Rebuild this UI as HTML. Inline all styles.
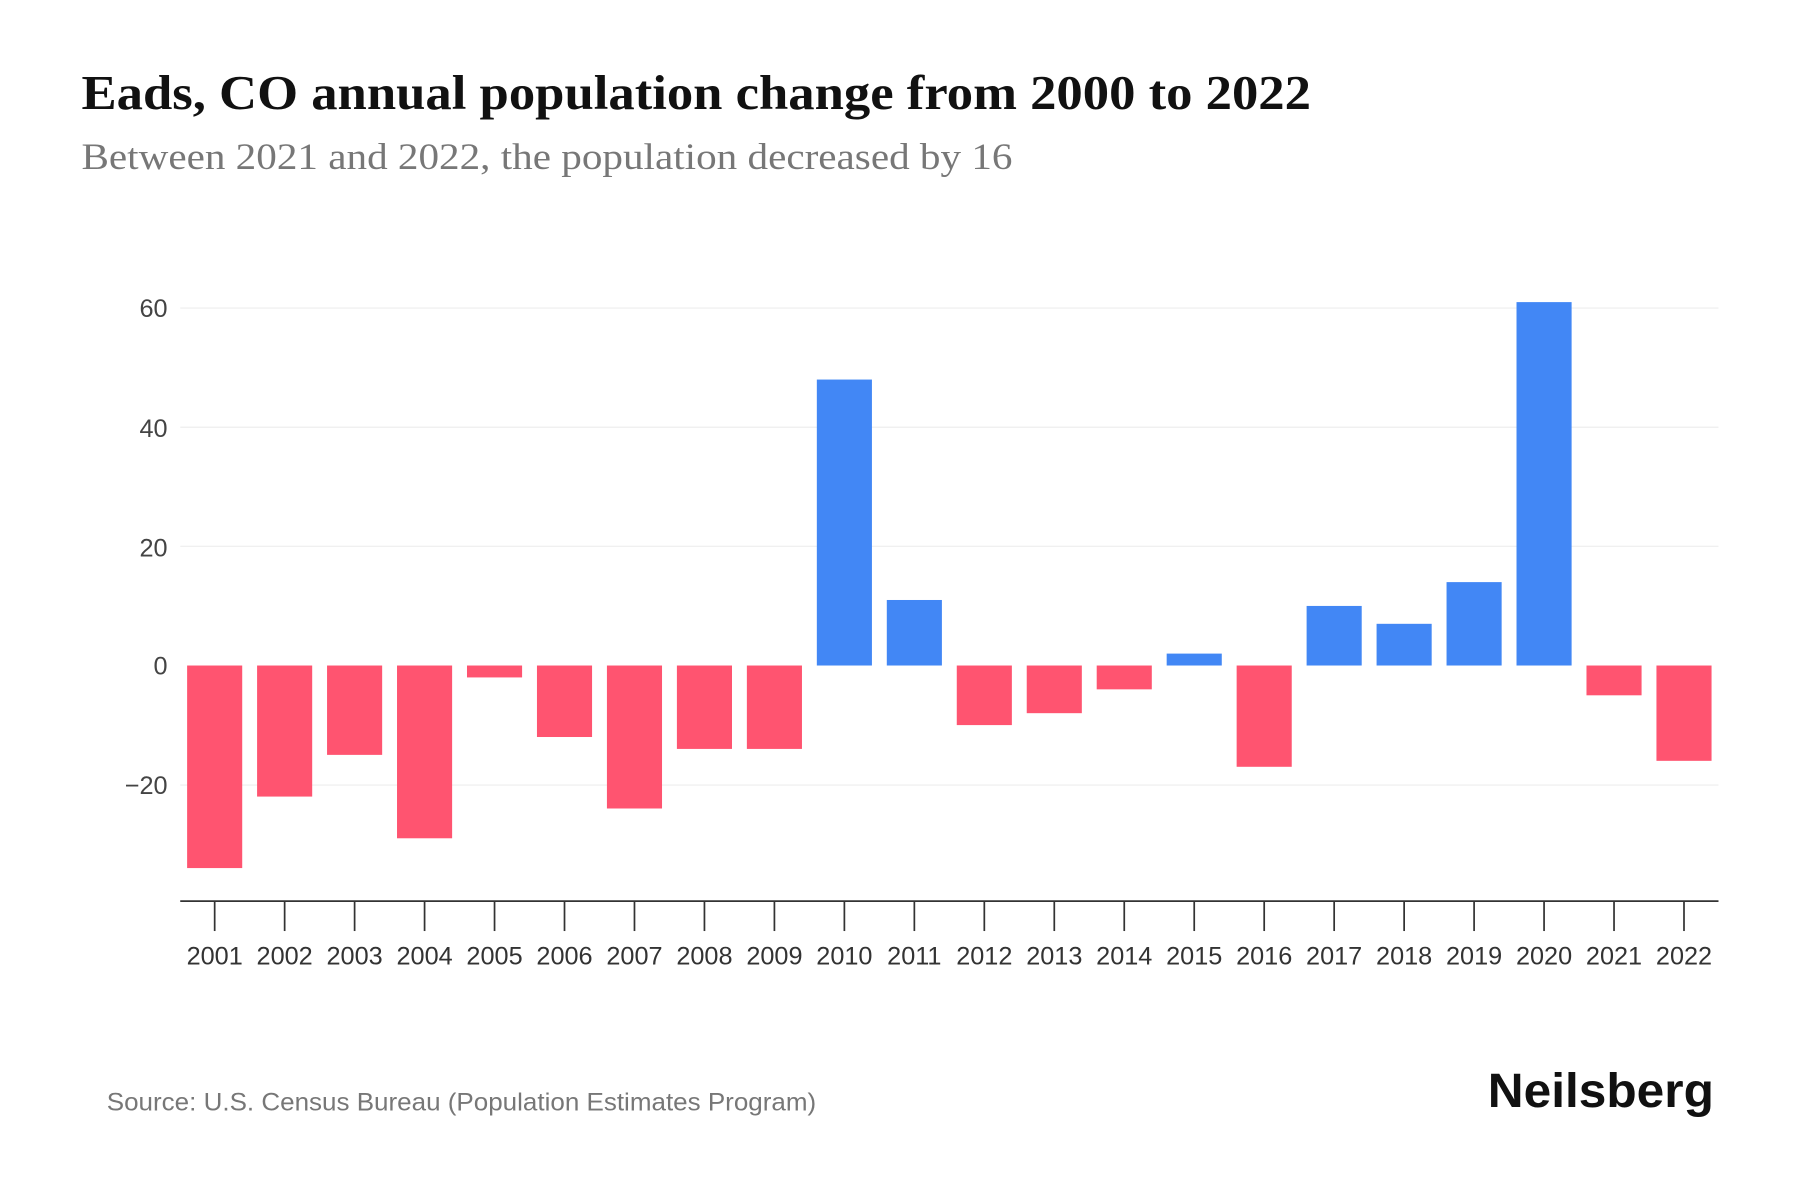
<!DOCTYPE html>
<html><head><meta charset="utf-8"><style>
html,body{margin:0;padding:0;background:#fff;width:1800px;height:1200px;overflow:hidden}
svg{display:block}
</style></head><body>
<svg width="1800" height="1200" viewBox="0 0 1568 1044" preserveAspectRatio="none" xmlns="http://www.w3.org/2000/svg">
<rect width="1568" height="1044" fill="#fff"/>
<text x="71" y="95" font-family="Liberation Serif, serif" font-weight="bold" font-size="42" fill="#111" textLength="1071" lengthAdjust="spacingAndGlyphs">Eads, CO annual population change from 2000 to 2022</text>
<text x="71" y="147" font-family="Liberation Serif, serif" font-size="32" fill="#777" textLength="811" lengthAdjust="spacingAndGlyphs">Between 2021 and 2022, the population decreased by 16</text>
<g stroke="#eeeeee" stroke-width="1">
<line x1="157" x2="1497" y1="268" y2="268"/>
<line x1="157" x2="1497" y1="371.7" y2="371.7"/>
<line x1="157" x2="1497" y1="475.3" y2="475.3"/>
<line x1="157" x2="1497" y1="683" y2="683"/>
</g>
<g font-family="Liberation Sans, sans-serif" font-size="22" fill="#444" text-anchor="end">
<text x="146" y="276">60</text>
<text x="146" y="380">40</text>
<text x="146" y="484">20</text>
<text x="146" y="587">0</text>
<text x="146" y="691">−20</text>
</g>
<g id="bars"></g>
<line x1="157" x2="1497" y1="784" y2="784" stroke="#333" stroke-width="1.5"/>
<g id="ticks" stroke="#333" stroke-width="1.5"></g>
<g id="labels" font-family="Liberation Sans, sans-serif" font-size="22" fill="#333" text-anchor="middle"></g>
<text x="93" y="966" font-family="Liberation Sans, sans-serif" font-size="22" fill="#777" textLength="618" lengthAdjust="spacingAndGlyphs">Source: U.S. Census Bureau (Population Estimates Program)</text>
<text x="1296" y="963" font-family="Liberation Sans, sans-serif" font-weight="bold" font-size="42" fill="#111" textLength="197" lengthAdjust="spacingAndGlyphs">Neilsberg</text>
<script>
var v=[-34,-22,-15,-29,-2,-12,-24,-14,-14,48,11,-10,-8,-4,2,-17,10,7,14,61,-5,-16];
var ns="http://www.w3.org/2000/svg",b=document.getElementById('bars'),t=document.getElementById('ticks'),l=document.getElementById('labels');
var z=579,u=5.183;
v.forEach(function(d,i){
 var cx=187+i*60.95;
 var r=document.createElementNS(ns,'rect');
 var h=Math.abs(d)*u;
 r.setAttribute('x',cx-24);r.setAttribute('width',48);
 r.setAttribute('y',d>=0?z-h:z);r.setAttribute('height',h);
 r.setAttribute('fill',d>=0?'#4287f5':'#ff5470');
 b.appendChild(r);
 var k=document.createElementNS(ns,'line');
 k.setAttribute('x1',cx);k.setAttribute('x2',cx);k.setAttribute('y1',784);k.setAttribute('y2',810);
 t.appendChild(k);
 var s=document.createElementNS(ns,'text');
 s.setAttribute('x',cx);s.setAttribute('y',839);s.textContent=2001+i;
 l.appendChild(s);
});
</script>
</svg>
</body></html>
